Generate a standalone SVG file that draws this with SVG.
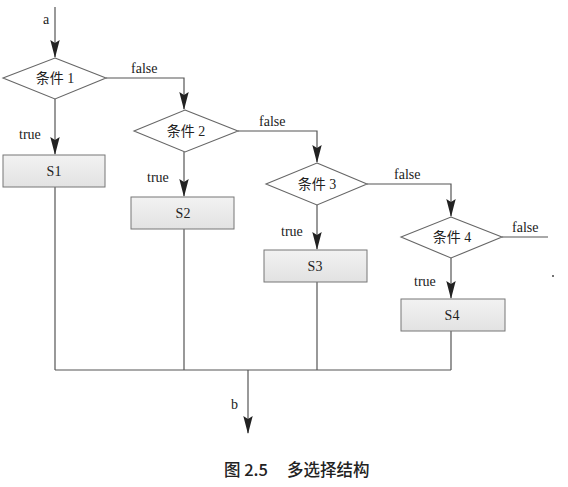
<svg xmlns="http://www.w3.org/2000/svg" width="568" height="487" viewBox="0 0 568 487">
<defs>
<marker id="ah" markerWidth="18" markerHeight="10" refX="17" refY="5" orient="auto" markerUnits="userSpaceOnUse" viewBox="0 0 18 10">
<path d="M0,0.3 L3,5 L0,9.7 L18,5 Z" fill="#222"/>
</marker>
<linearGradient id="bg" x1="0" y1="0" x2="0" y2="1">
<stop offset="0" stop-color="#f2f2f2"/>
<stop offset="1" stop-color="#e2e2e2"/>
</linearGradient>
<style>
.ln{stroke:#555;stroke-width:1.2;fill:none}
.ar{marker-end:url(#ah)}
.box{fill:url(#bg);stroke:#777;stroke-width:1}
.dia{fill:#fff;stroke:#666;stroke-width:1.1}
.lb{font-family:"Liberation Serif","Noto Sans CJK SC",serif;font-size:14px;fill:#222}
.nt{font-family:"Liberation Serif","Noto Sans CJK SC",serif;font-size:14px;fill:#222;text-anchor:middle}
.cap{font-family:"Noto Sans CJK SC",sans-serif;font-size:16.5px;fill:#222;font-weight:500}
</style>
</defs>
<rect width="568" height="487" fill="#fff"/>
<g id="connectors">
<path class="ln ar" d="M55,7 V57"/>
<path class="ln ar" d="M55,99 V154"/>
<path class="ln ar" d="M106,78 H184 V109"/>
<path class="ln ar" d="M184,152 V196"/>
<path class="ln ar" d="M238,131 H317 V162"/>
<path class="ln ar" d="M317,205 V249"/>
<path class="ln ar" d="M367,184 H451 V216"/>
<path class="ln ar" d="M451,258 V298"/>
<path class="ln" d="M502,237 H548"/>
<path class="ln" d="M55,187 V370 M184,229 V370 M317,282 V370 M451,331 V370 M55,370 H451"/>
<path class="ln ar" d="M248,370 V433"/>
</g>
<g id="labels">
<text class="lb" x="43" y="24">a</text>
<text class="lb" x="131" y="73">false</text>
<text class="lb" x="19" y="139">true</text>
<text class="lb" x="259" y="126">false</text>
<text class="lb" x="147" y="182">true</text>
<text class="lb" x="394" y="179">false</text>
<text class="lb" x="281" y="236">true</text>
<text class="lb" x="512" y="232">false</text>
<text class="lb" x="414" y="286">true</text>
<text class="lb" x="231" y="409">b</text>
</g>
<g id="cond1"><polygon class="dia" points="55,58 106,78 55,99 3,78"/><text class="nt" x="55" y="83">条件 1</text></g>
<g id="s1"><rect class="box" x="3" y="155" width="102" height="32"/><text class="nt" x="54" y="176">S1</text></g>
<g id="cond2"><polygon class="dia" points="185,110 238,131 185,152 134,131"/><text class="nt" x="186" y="136">条件 2</text></g>
<g id="s2"><rect class="box" x="131" y="197" width="103" height="32"/><text class="nt" x="183" y="218">S2</text></g>
<g id="cond3"><polygon class="dia" points="317,163 367,184 317,205 266,184"/><text class="nt" x="317" y="189">条件 3</text></g>
<g id="s3"><rect class="box" x="264" y="250" width="103" height="32"/><text class="nt" x="315" y="271">S3</text></g>
<g id="cond4"><polygon class="dia" points="451,217 502,237 451,258 401,237"/><text class="nt" x="452" y="242">条件 4</text></g>
<g id="s4"><rect class="box" x="401" y="299" width="104" height="32"/><text class="nt" x="452" y="320">S4</text></g>
<circle cx="553" cy="276" r="1" fill="#444"/>
<text class="cap" y="476"><tspan x="224">图 2.5</tspan><tspan x="287">多选择结构</tspan></text>
</svg>
